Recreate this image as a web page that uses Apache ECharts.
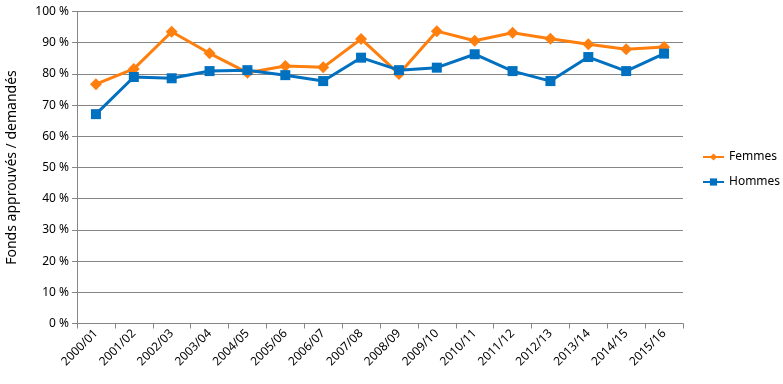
<!DOCTYPE html>
<html><head><meta charset="utf-8">
<script src="https://cdn.jsdelivr.net/npm/echarts@6/dist/echarts.min.js"></script>
<style>html,body{margin:0;padding:0;background:#fff}#c{width:783px;height:384px}</style>
</head><body><div id="c"></div>
<script>
const categories = ['2000/01','2001/02','2002/03','2003/04','2004/05','2005/06','2006/07','2007/08','2008/09','2009/10','2010/11','2011/12','2012/13','2013/14','2014/15','2015/16'];
const femmes = [76.7,81.6,93.5,86.6,80.4,82.5,82.1,91.2,80.0,93.7,90.6,93.2,91.3,89.5,87.9,88.6];
const hommes = [67.1,79.0,78.6,80.9,81.2,79.6,77.7,85.2,81.2,82.0,86.3,80.9,77.7,85.4,80.9,86.5];
const yTicks = [0,10,20,30,40,50,60,70,80,90,100];

const chart = echarts.init(document.getElementById('c'));
const font = 'Noto Sans';
chart.setOption({
  animation:false,
  grid:{left:77,right:100,top:11.5,bottom:60.5,containLabel:false,outerBoundsMode:'none'},
  legend:{
    orient:'vertical', left:697, top:146, itemGap:13, itemWidth:21, itemHeight:9,
    textStyle:{fontFamily:font,fontSize:12,color:'#000'},
    data:['Femmes','Hommes']
  },
  xAxis:{
    type:'category', data:categories, boundaryGap:true,
    axisLine:{lineStyle:{color:'#868686'}},
    axisTick:{show:true,alignWithLabel:false,length:5,lineStyle:{color:'#868686'}},
    axisLabel:{rotate:45,fontFamily:font,fontSize:12,color:'#000',margin:8,interval:0}
  },
  yAxis:{
    type:'value', min:0, max:100, interval:10,
    name:'Fonds approuvés / demandés', nameLocation:'middle', nameGap:58,
    nameTextStyle:{fontFamily:font,fontSize:14,color:'#000'},
    axisLine:{show:true,lineStyle:{color:'#868686'}},
    axisTick:{show:true,length:5,lineStyle:{color:'#868686'}},
    splitLine:{lineStyle:{color:'#868686'}},
    axisLabel:{fontFamily:font,fontSize:12,color:'#000',margin:8,
      formatter:v=>yTicks.includes(v)?v+' %':''}
  },
  series:[
    {name:'Femmes',type:'line',data:femmes,symbol:'diamond',symbolSize:12,
      lineStyle:{width:3,color:'#FF7F0E'},itemStyle:{color:'#FF7F0E'}},
    {name:'Hommes',type:'line',data:hommes,symbol:'rect',symbolSize:10,
      lineStyle:{width:3,color:'#0070C0'},itemStyle:{color:'#0070C0'}}
  ]
});
</script></body></html>
